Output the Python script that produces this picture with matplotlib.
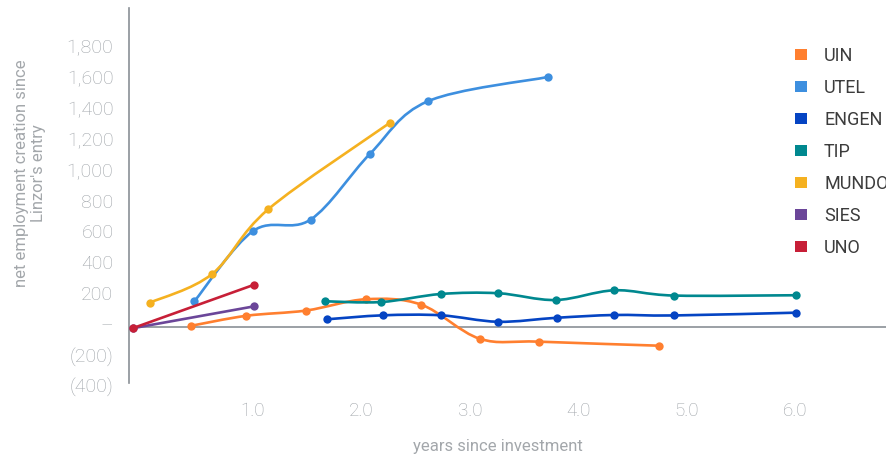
import matplotlib
matplotlib.use("Agg")
import matplotlib.pyplot as plt
import numpy as np
from matplotlib.path import Path
from matplotlib.patches import PathPatch, Rectangle
from matplotlib.transforms import ScaledTranslation

series_names = ["UIN", "UTEL", "ENGEN", "TIP", "MUNDO", "SIES", "UNO"]
series_colors = ["#ff7f2f", "#3d8fdf", "#0544c3", "#00888f", "#f5b120", "#6b4699", "#c71f37"]

uin_x = [0.43, 0.94, 1.49, 2.04, 2.55, 3.09, 3.64, 4.74]
uin_y = [8, 73, 107, 180, 145, -76, -95, -121]
utel_x = [0.46, 1.00, 1.53, 2.08, 2.61, 3.72]
utel_y = [167, 622, 696, 1124, 1463, 1621]
engen_x = [1.68, 2.20, 2.73, 3.26, 3.80, 4.33, 4.88, 6.00]
engen_y = [50, 76, 76, 34, 60, 78, 75, 93]
tip_x = [1.66, 2.18, 2.73, 3.26, 3.79, 4.33, 4.88, 6.00]
tip_y = [167, 162, 214, 219, 175, 238, 204, 206]
mundo_x = [0.05, 0.62, 1.14, 2.26]
mundo_y = [158, 342, 763, 1323]
sies_x = [-0.11, 1.01]
sies_y = [-8, 134]
uno_x = [-0.11, 1.01]
uno_y = [-8, 274]

x_ticks = [1.0, 2.0, 3.0, 4.0, 5.0, 6.0]
x_tick_labels = ["1.0", "2.0", "3.0", "4.0", "5.0", "6.0"]
y_ticks = [-400, -200, 0, 200, 400, 600, 800, 1000, 1200, 1400, 1600, 1800]
y_tick_labels = ["(400)", "(200)", "\u2013", "200", "400", "600", "800",
                 "1,000", "1,200", "1,400", "1,600", "1,800"]


def smooth_path(xs, ys):
    # catmull-rom curve through the points, as cubic bezier segments
    pts = np.column_stack([xs, ys]).astype(float)
    n = len(pts)
    verts = [pts[0]]
    codes = [Path.MOVETO]
    for i in range(n - 1):
        p0 = pts[max(i - 1, 0)]
        p1 = pts[i]
        p2 = pts[i + 1]
        p3 = pts[min(i + 2, n - 1)]
        c1 = p1 + (p2 - p0) / 6.0
        c2 = p2 - (p3 - p1) / 6.0
        verts += [c1, c2, p2]
        codes += [Path.CURVE4] * 3
    return Path(verts, codes)


def main():
    plt.rcParams['font.family'] = ['Roboto', 'DejaVu Sans']

    W, H = 886, 457
    fig = plt.figure(figsize=(W / 100, H / 100), dpi=100)

    left_px, right_px, top_px, bottom_px = 128.7, 886, 8, 389.5
    ax = fig.add_axes([left_px / W, 1 - bottom_px / H,
                       (right_px - left_px) / W, (bottom_px - top_px) / H])

    series_x = [uin_x, utel_x, engen_x, tip_x, mundo_x, sies_x, uno_x]
    series_y = [uin_y, utel_y, engen_y, tip_y, mundo_y, sies_y, uno_y]

    for i in range(len(series_names)):
        path = smooth_path(series_x[i], series_y[i])
        ax.add_patch(PathPatch(path, facecolor='none', edgecolor=series_colors[i],
                               lw=1.9, zorder=3 + i, capstyle='round', joinstyle='round'))
        ax.plot(series_x[i], series_y[i], 'o', color=series_colors[i],
                markersize=6, markeredgewidth=0, zorder=3 + i)

    ax.set_xlim(-0.1456, 6.834)
    ax.set_ylim(-405, 2068)

    ax.axhline(0, color='#8a9096', lw=1.2, zorder=2)

    for s in ['top', 'right', 'bottom']:
        ax.spines[s].set_visible(False)
    ax.spines['left'].set_color('#8a9096')
    ax.spines['left'].set_linewidth(1.2)
    ax.spines['left'].set_bounds(-363, 2068)

    ax.set_xticks(x_ticks)
    ax.set_xticklabels(x_tick_labels)
    ax.set_yticks(y_ticks)
    ax.set_yticklabels(y_tick_labels)
    ax.tick_params(axis='both', length=0, labelcolor='#9ea3a8')
    ax.tick_params(axis='y', pad=11, labelsize=14)
    ax.tick_params(axis='x', pad=9, labelsize=13.5)
    for lab in ax.get_xticklabels() + ax.get_yticklabels():
        lab.set_fontweight('light')
    shift = ScaledTranslation(0, 3 / 100, fig.dpi_scale_trans)
    for lab in ax.get_yticklabels():
        lab.set_transform(lab.get_transform() + shift)

    fig.text(498 / W, 1 - 446 / H, "years since investment", ha='center', va='center',
             fontsize=12, color='#a3a7ab')
    fig.text(30 / W, 1 - 173 / H, "net employment creation since\nLinzor's entry",
             rotation=90, ha='center', va='center', multialignment='center',
             fontsize=12, color='#a3a7ab', linespacing=1.1)

    # legend drawn by hand so it can run off the right edge like the original
    for i, name in enumerate(series_names):
        yc = 54.7 + i * 32.0
        fig.add_artist(Rectangle((795 / W, 1 - (yc + 5.5) / H), 12 / W, 11 / H,
                                 transform=fig.transFigure, color=series_colors[i], lw=0))
        fig.text(824 / W, 1 - (yc + 1.5) / H, name, ha='left', va='center',
                 fontsize=13, color='#3c3c3c')

    fig.savefig("out.png", dpi=100)


if __name__ == "__main__":
    main()
